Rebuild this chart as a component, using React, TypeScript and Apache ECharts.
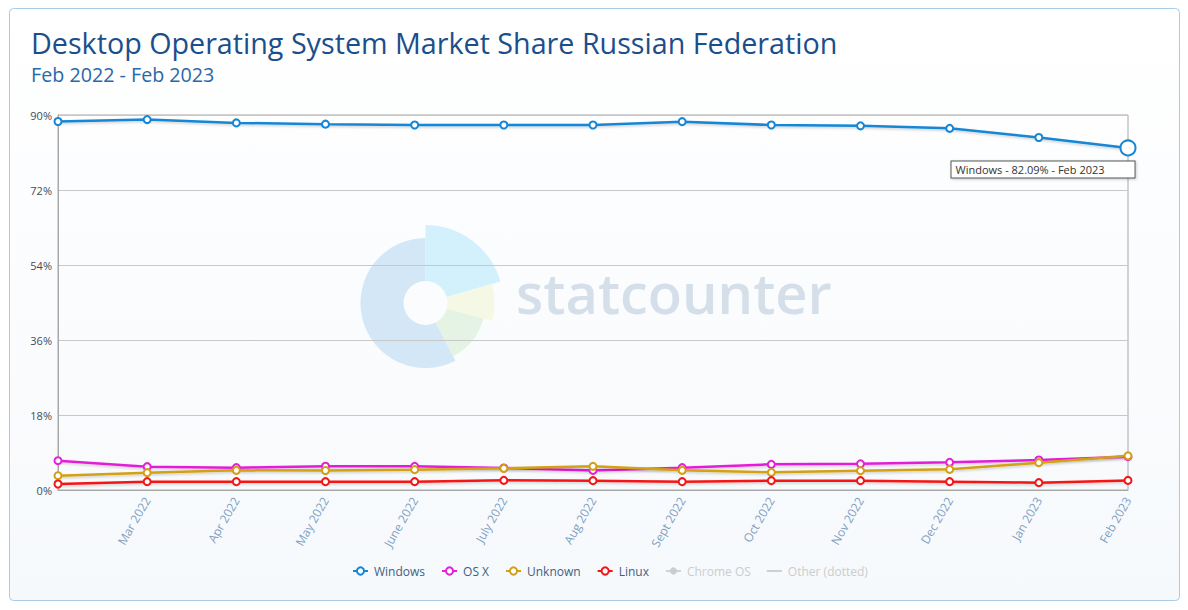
import React, { useEffect, useRef } from 'react';
import * as echarts from 'echarts';

const categories = ['Feb 2022', 'Mar 2022', 'Apr 2022', 'May 2022', 'June 2022', 'July 2022', 'Aug 2022', 'Sept 2022', 'Oct 2022', 'Nov 2022', 'Dec 2022', 'Jan 2023', 'Feb 2023'];
const windowsShare = [88.44, 88.9, 88.1, 87.8, 87.6, 87.6, 87.6, 88.4, 87.6, 87.4, 86.8, 84.6, 82.09];
const osxShare = [7.03, 5.6, 5.36, 5.7, 5.68, 5.28, 4.7, 5.36, 6.16, 6.28, 6.64, 7.2, 8.0];
const unknownShare = [3.43, 4.16, 4.72, 4.68, 4.88, 5.2, 5.68, 4.72, 4.24, 4.64, 4.96, 6.56, 8.2];
const linuxShare = [1.44, 2.0, 2.0, 2.0, 2.0, 2.32, 2.24, 2.0, 2.24, 2.24, 2.0, 1.76, 2.3];
const legendNames = ['Windows', 'OS X', 'Unknown', 'Linux', 'Chrome OS', 'Other (dotted)'];
const titleText = 'Desktop Operating System Market Share Russian Federation';
const subtitleText = 'Feb 2022 - Feb 2023';
const yTicks = { min: 0, max: 90, interval: 18 };

const FONT = '"Open Sans", "Noto Sans", sans-serif';
const deg = (d: number) => (d * Math.PI) / 180;

export default function App() {
  const ref = useRef<HTMLDivElement>(null);
  useEffect(() => {
    if (!ref.current) return;
    const chart = echarts.init(ref.current, null, { renderer: 'svg' });
    const shadow = { shadowColor: 'rgba(0,0,0,0.18)', shadowBlur: 2, shadowOffsetY: 1.5 };
    const mkSeries = (name: string, data: any[], color: string, width: number) => ({
      name,
      type: 'line',
      data,
      symbol: 'emptyCircle',
      symbolSize: 7,
      showSymbol: true,
      color,
      itemStyle: { color, borderWidth: 1.5 },
      lineStyle: { color, width, ...shadow },
      emphasis: { disabled: true },
      z: 3,
    });
    const lastIdx = windowsShare.length - 1;
    const windowsData = windowsShare.map((v, i) =>
      i === lastIdx
        ? {
            value: v,
            symbolSize: 15,
            label: {
              show: true,
              formatter: `Windows - ${v.toFixed(2)}% - ${categories[i]}`,
              position: [-168, 22],
              fontFamily: FONT,
              fontSize: 11,
              color: '#333333',
              backgroundColor: '#ffffff',
              borderColor: '#555555',
              borderWidth: 1,
              padding: [3, 30, 2, 4],
              shadowColor: 'rgba(0,0,0,0.2)',
              shadowBlur: 3,
              shadowOffsetX: 1,
              shadowOffsetY: 1,
            },
          }
        : v
    );
    const option: any = {
      animation: false,
      backgroundColor: 'transparent',
      textStyle: { fontFamily: FONT },
      graphic: [
        {
          type: 'rect',
          z: -10,
          shape: { x: 9.5, y: 8.5, width: 1170, height: 592, r: 4 },
          style: {
            fill: new echarts.graphic.LinearGradient(0, 0, 0, 1, [
              { offset: 0, color: '#ffffff' },
              { offset: 1, color: '#f6f9fc' },
            ]),
            stroke: '#a9cbe6',
            lineWidth: 1,
          },
          silent: true,
        },
        {
          type: 'text',
          left: 31,
          top: 28,
          style: { text: titleText, font: `400 28.7px ${FONT}`, fill: '#1a4f8b' },
        },
        {
          type: 'text',
          left: 31,
          top: 64,
          style: { text: subtitleText, font: `400 19.7px ${FONT}`, fill: '#2a68a8' },
        },
        {
          type: 'group',
          z: 1,
          silent: true,
          children: [
            { type: 'sector', shape: { cx: 425.5, cy: 303, r: 65, r0: 22, startAngle: deg(62.6), endAngle: deg(270), clockwise: true }, style: { fill: '#d3e7f6' } },
            { type: 'sector', shape: { cx: 425.5, cy: 303, r: 78, r0: 22, startAngle: deg(-90), endAngle: deg(-16), clockwise: true }, style: { fill: '#d2f1fc' } },
            { type: 'sector', shape: { cx: 425.5, cy: 303, r: 69, r0: 22, startAngle: deg(-16), endAngle: deg(15), clockwise: true }, style: { fill: '#f4f8e5' } },
            { type: 'sector', shape: { cx: 425.5, cy: 303, r: 60, r0: 22, startAngle: deg(15), endAngle: deg(62.6), clockwise: true }, style: { fill: '#e4f3e4' } },
            { type: 'text', x: 516, y: 264, style: { text: 'statcounter', font: `600 56px ${FONT}`, fill: '#d5dfe9' } },
          ],
        },
      ],
      grid: {
        left: 58,
        right: 60,
        top: 115,
        bottom: 120,
        show: true,
        borderColor: '#a8a8a8',
        borderWidth: 1,
        backgroundColor: 'transparent',
        z: 0,
      },
      legend: {
        data: legendNames.map((n) =>
          n === 'Other (dotted)' ? { name: n, icon: 'path://M0,0h16v2h-16z' } : n
        ),
        selected: { 'Chrome OS': false, 'Other (dotted)': false },
        left: 347,
        top: 560,
        itemWidth: 15,
        itemHeight: 9,
        itemGap: 16,
        inactiveColor: '#cccccc',
        inactiveBorderColor: '#cccccc',
        textStyle: { fontFamily: FONT, fontSize: 12, color: '#3f5f82', padding: [0, 0, 0, 1] },
      },
      xAxis: {
        type: 'category',
        data: categories,
        boundaryGap: false,
        axisLine: { lineStyle: { color: '#a8a8a8' } },
        axisTick: { show: false },
        splitLine: { show: false },
        axisLabel: {
          interval: (i: number) => i > 0,
          rotate: 60,
          margin: 8,
          fontFamily: FONT,
          fontSize: 12,
          color: '#7f9fc2',
        },
      },
      yAxis: {
        type: 'value',
        min: yTicks.min,
        max: yTicks.max,
        interval: yTicks.interval,
        axisLine: { show: true, lineStyle: { color: '#a8a8a8' } },
        axisTick: { show: false },
        splitLine: { lineStyle: { color: '#c8c8c8' } },
        axisLabel: { formatter: '{value}%', margin: 6, fontFamily: FONT, fontSize: 11, color: '#444c58' },
      },
      series: [
        mkSeries('Windows', windowsData, '#1586d6', 2.5),
        mkSeries('OS X', osxShare, '#e41fd8', 2.5),
        mkSeries('Unknown', unknownShare, '#d3a015', 2.5),
        mkSeries('Linux', linuxShare, '#f41515', 2.5),
        { name: 'Chrome OS', type: 'line', data: [], symbol: 'circle', color: '#bbbbbb' },
        { name: 'Other (dotted)', type: 'line', data: [], symbol: 'none', color: '#bbbbbb', lineStyle: { type: 'dotted' } },
      ],
    };
    chart.setOption(option);
    return () => chart.dispose();
  }, []);
  return <div ref={ref} style={{ position: 'absolute', left: 0, top: 0, width: 1188, height: 610 }} />;
}
